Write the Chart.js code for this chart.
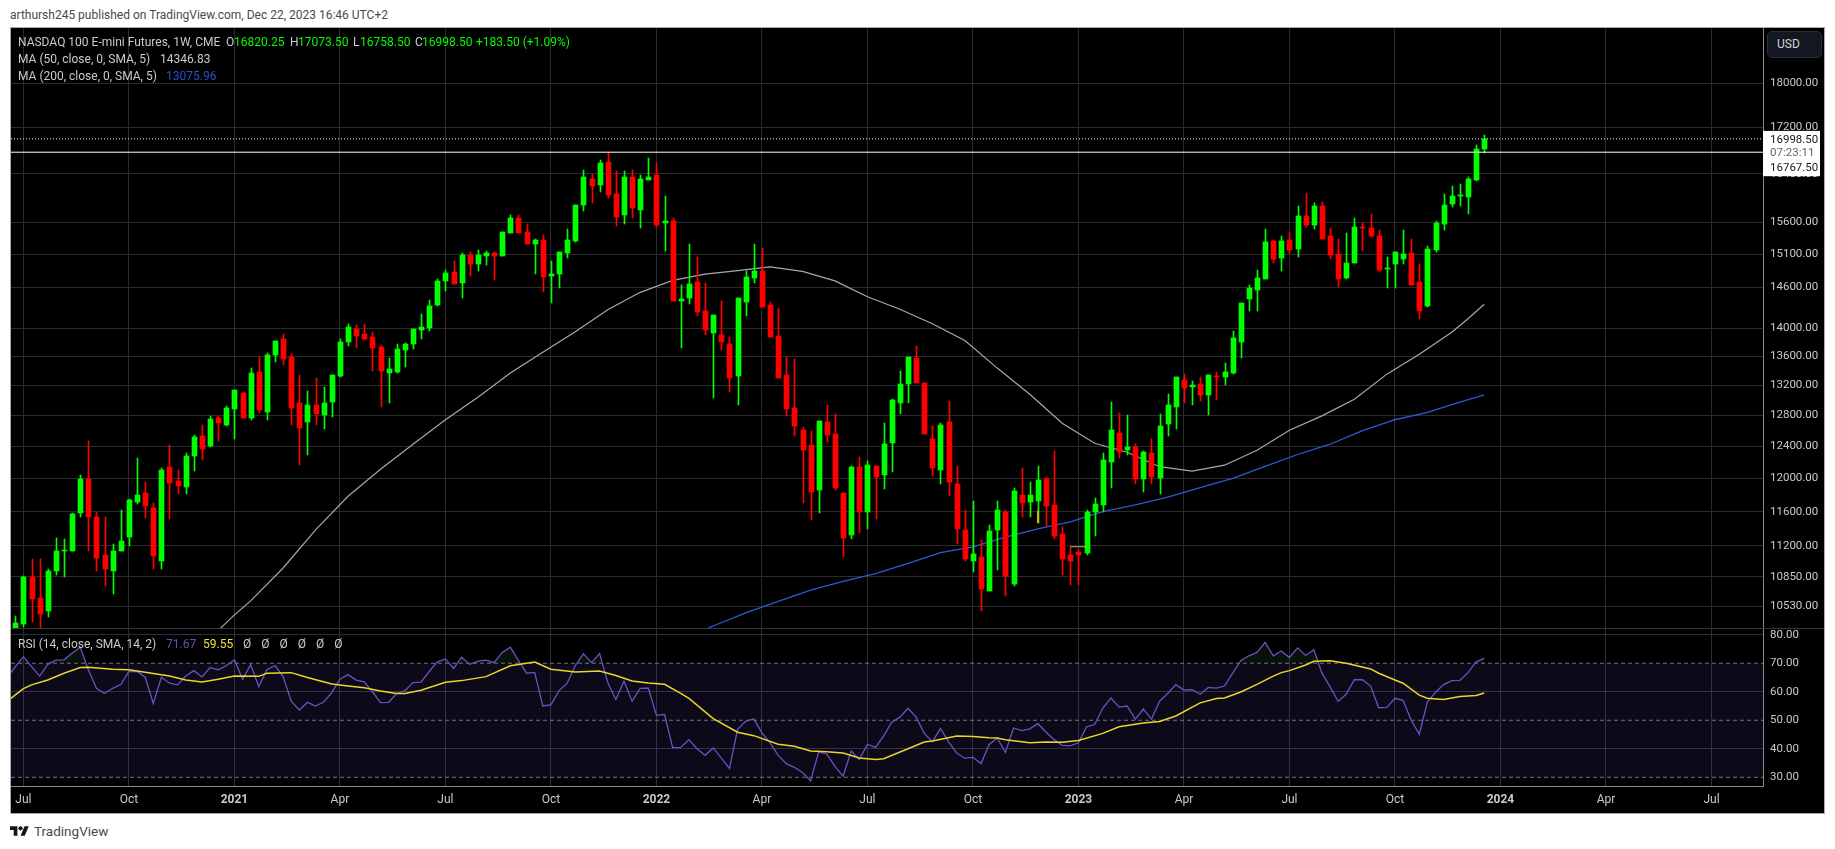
<!DOCTYPE html>
<html>
<head>
<meta charset="utf-8">
<title>NASDAQ 100 E-mini Futures</title>
<script src="https://cdn.jsdelivr.net/npm/chart.js@4"></script>
<style>
    html, body { margin: 0; background: #fff; width: 1835px; height: 849px; overflow: hidden; font-family: Roboto, sans-serif; }
    #frame { position: absolute; left: 10px; top: 27px; width: 1813px; height: 785px; background: #000; border: 1px solid #a8a8a8; }
    #paneLine { position: absolute; left: 11px; top: 628px; width: 1813px; height: 1px; background: #34353f; }
    canvas { position: absolute; }
    #headline { position: absolute; left: 10px; top: 6px; font-size: 12px; line-height: 18px; color: #4a4a4a; }
    .tx { position: absolute; font-size: 12px; line-height: 16px; color: #c8cad0; white-space: nowrap; }
    .up { color: #00ff00; }
    #usd { position: absolute; left: 1767px; top: 31px; width: 53px; height: 25px; background: #131722; border: 1px solid #2a2e39; border-radius: 5px; color: #d1d4dc; font-size: 12px; line-height: 25px; text-indent: 9px; box-sizing: content-box; }
    #logo { position: absolute; left: 10px; top: 826px; }
    #brand { position: absolute; left: 34px; top: 822px; font-size: 13.5px; line-height: 18px; color: #4a4a4a; }
</style>
</head>
<body>
<div id="frame"></div>
<div id="paneLine"></div>
<div id="headline">arthursh245 published on TradingView.com, Dec 22, 2023 16:46 UTC+2</div>
<canvas id="priceChart" width="1813" height="600" style="left:11px;top:28px"></canvas>
<canvas id="rsiChart" width="1813" height="184" style="left:11px;top:629px"></canvas>

<div class="tx" style="left:18px;top:34px">NASDAQ 100 E-mini Futures, 1W, CME</div>
<div class="tx" style="left:226px;top:34px">O</div><div class="tx up" style="left:234px;top:34px">16820.25</div>
<div class="tx" style="left:290px;top:34px">H</div><div class="tx up" style="left:298px;top:34px">17073.50</div>
<div class="tx" style="left:353px;top:34px">L</div><div class="tx up" style="left:360px;top:34px">16758.50</div>
<div class="tx" style="left:415px;top:34px">C</div><div class="tx up" style="left:422px;top:34px">16998.50</div>
<div class="tx up" style="left:476px;top:34px">+183.50 (+1.09%)</div>
<div class="tx" style="left:18px;top:51px">MA (50, close, 0, SMA, 5)</div>
<div class="tx" style="left:160px;top:51px">14346.83</div>
<div class="tx" style="left:18px;top:68px">MA (200, close, 0, SMA, 5)</div>
<div class="tx" style="left:166px;top:68px;color:#2450d0">13075.96</div>
<div class="tx" style="left:18px;top:636px">RSI (14, close, SMA, 14, 2)</div>
<div class="tx" style="left:166px;top:636px;color:#6a4fb0">71.67</div>
<div class="tx" style="left:203px;top:636px;color:#f0e030">59.55</div>
<div class="tx" style="left:243px;top:636px;word-spacing:7px">Ø Ø Ø Ø Ø Ø</div>
<div id="usd">USD</div>

<svg id="logo" width="19" height="10" viewBox="0 4 36 18"><path fill="#131722" d="M14 22H7V11H0V4h14v18zM28 22h-8l7.5-18h8L28 22z"/><circle fill="#131722" cx="20" cy="8" r="4"/></svg>
<div id="brand">TradingView</div>

<script>
// weekly candles, first candle is index 0
const opens = [10300,10339,10850,10622,10480,10921,11140,11136,11580,12000,
    11533,11091,10910,11136,11298,11710,11822,11640,11027,12142,
    11968,11895,12280,12533,12404,12765,12675,12890,13100,12765,
    13384,12845,13618,13840,13590,12970,12715,12940,12805,12980,
    13325,13810,13990,13920,13880,13730,13370,13385,13690,13770,
    13975,14005,14336,14694,14828,14665,15090,14954,15075,15120,
    15075,15428,15671,15444,15266,15330,14772,14802,15120,15315,
    15880,16305,16210,16605,16065,15720,16340,15800,16290,16375,
    15590,15620,14400,14444,14680,14255,13935,13905,13770,13330,
    14385,14742,14850,14340,13895,13343,12898,12610,12417,11860,
    12712,12560,11822,11320,12140,11600,12155,12040,12440,12972,
    13218,13577,13230,12495,12103,12712,11930,11380,11023,11068,
    10690,11385,11590,10770,11800,11710,11725,12000,11675,11335,
    11100,11125,11115,11600,11675,12200,12580,12355,12390,11990,
    12315,12004,12685,12915,13274,13178,13218,13070,13330,13315,
    13370,13800,14430,14560,14725,15315,15040,15330,15186,15703,
    15557,15866,15380,15105,14745,14960,15525,15510,15395,14880,
    14950,15025,15120,14680,14325,15170,15573,15900,16030,16013,
    16290,16820.25];
const highs = [10426,10855,11053,11053,10940,11286,11274,11580,12050,12467,
    11590,11541,11227,11616,11749,12254,11956,11700,12129,12417,
    12104,12317,12545,12680,12790,12790,12925,13140,13110,13440,
    13596,13645,13820,13910,13630,13342,13125,13300,13178,13342,
    13850,14060,14045,14060,13950,13755,13575,13770,13785,13990,
    14205,14410,14724,14867,14998,15115,15136,15165,15150,15136,
    15444,15720,15720,15573,15346,15411,14999,15135,15492,15880,
    16460,16405,16640,16765,16455,16440,16470,16375,16660,16575,
    16030,15670,14635,15266,15060,14665,14195,14400,13880,14444,
    14850,15266,15205,14385,14290,13590,13560,12650,12600,12725,
    12945,12817,11822,12150,12266,12216,12155,12700,13018,13398,
    13590,13740,13240,12660,12700,12991,12155,11615,11730,11265,
    11440,11730,11625,11880,12125,11955,12155,12017,12340,11415,
    11190,11170,11625,11760,12315,12975,12830,12805,12430,12340,
    12495,12818,13085,13315,13356,13260,13315,13343,13384,13508,
    13960,14370,14635,14860,15493,15330,15380,15444,15870,16080,
    15915,15932,15510,15347,15430,15670,15590,15736,15475,15060,
    15135,15475,15347,14950,15235,15625,16063,16195,16230,16340,
    16900,17073.5];
const lows = [10280,10303,10364,10292,10408,10876,10846,11136,11537,11147,
    10921,10747,10659,11136,11204,11686,11522,10940,10940,11510,
    11810,11810,12092,12230,12392,12470,12660,12495,12765,12740,
    12832,12740,13522,13480,12675,12170,12290,12680,12625,12780,
    13315,13740,13715,13825,13395,12920,12970,13370,13460,13700,
    13840,13960,14320,14544,14654,14444,14772,14848,14938,14710,
    15075,15428,15428,15266,14802,14530,14370,14590,15045,15300,
    15785,15915,16090,16000,15545,15573,15670,15510,16290,15525,
    15155,14400,13715,14355,14180,13905,13030,13690,13110,12940,
    14180,14665,14310,13880,13300,12800,12533,11700,11498,11580,
    12455,11860,11068,11275,11350,11390,11508,11870,12078,12817,
    12972,13230,12555,12030,11930,11785,11227,11023,10900,10480,
    10690,10925,10635,10750,11535,11535,11465,11425,11275,10875,
    10765,10755,11100,11310,11600,11880,12250,12290,11930,11835,
    11930,11810,12533,12630,12965,12938,12990,12805,13000,13205,
    13356,13580,14250,14250,14725,14965,14845,15105,15060,15525,
    15493,15347,15030,14605,14725,14960,15150,15365,14830,14590,
    14590,14950,14635,14135,14310,15135,15475,15850,15870,15735,
    16275,16758.5];
const closes = [10346,10850,10611,10447,10921,11136,11148,11569,12000,11533,
    11057,10933,11136,11251,11737,11798,11665,11080,12104,11943,
    11907,12280,12520,12367,12752,12700,12900,13140,12765,13370,
    12870,13618,13820,13563,12900,12640,12940,12815,12970,13342,
    13810,14020,13895,13850,13715,13395,13425,13700,13770,13990,
    14020,14320,14694,14808,14654,15090,14954,15090,15120,15075,
    15444,15671,15428,15266,15330,14757,14802,15135,15330,15880,
    16355,16190,16590,16050,15685,16340,15835,16305,16340,15557,
    15620,14400,14430,14650,14240,13975,14195,13797,13300,14444,
    14757,14850,14310,13880,13310,12885,12662,12355,11835,12725,
    12546,11883,11295,12140,11600,12166,12017,12430,13000,13218,
    13590,13240,12560,12128,12677,11955,11390,11050,11102,10712,
    11375,11625,10865,11845,11700,11800,11980,11665,11310,11056,
    11030,11100,11600,11690,12225,12615,12335,12390,11990,12330,
    12020,12662,12938,13315,13165,13205,13070,13343,13315,13384,
    13854,14370,14590,14741,15300,15025,15315,15170,15703,15557,
    15866,15347,15090,14725,14960,15525,15510,15380,14860,14893,
    15135,15105,14635,14250,15186,15590,15883,16030,16046,16307,
    16815,16998.5];

const ma50Weeks = [25,27,29,33,37,41,45,49,53,57,61,65,69,73,77,81,85,89,93,97,101,105,109,113,117,121,125,129,133,137,141,145,149,153,157,161,165,169,173,177,179,181];
const ma50Values = [10270,10436,10586,10949,11386,11785,12116,12430,12746,13044,13370,13659,13949,14268,14524,14703,14797,14851,14907,14839,14695,14458,14275,14063,13825,13439,13084,12700,12443,12329,12147,12091,12166,12354,12610,12797,13017,13356,13632,13942,14136,14346.83];
const ma200Weeks = [85,86,90,94,98,102,106,110,114,118,122,126,130,134,138,142,146,150,154,158,162,166,170,174,178,181];
const ma200Values = [10280,10317,10457,10582,10704,10800,10887,11002,11124,11189,11300,11397,11480,11600,11682,11773,11890,12004,12150,12300,12430,12605,12746,12842,12977,13075.96];

// small yellow drawings left on the candles around the end of 2022
const markLevelWeeks = [130,132];
const markLevelValues = [11190,11190];
const markWickWeeks = [126,126];
const markWickValues = [11610,11465];

// rsi starts one week before the first visible candle
const rsiValues = [65,68.8,72.3,68.8,65.5,69.6,71.1,71.2,73.5,75.6,67.7,
    61.2,59.4,61.2,62.5,67.1,67.1,65.1,55.9,65.1,63.0,
    62.4,65.5,67.4,65.2,68.5,67.7,69.1,71.2,64.4,69.5,
    61.8,67.7,69.2,65.3,56.7,53.6,56.3,55.0,56.4,59.7,
    64.4,66.0,64.1,63.5,60.0,56.2,56.3,59.4,60.4,63.2,
    63.4,67.1,70.5,71.5,68.2,72.1,69.6,70.7,71.1,70.2,
    73.8,75.6,70.9,66.5,66.8,55.0,55.4,60.4,63.0,69.2,
    73.3,70.2,73.4,63.2,57.3,63.7,56.7,61.2,61.3,51.7,
    52.0,40.4,40.5,43.2,40.0,37.7,40.3,36.7,33.1,46.8,
    49.6,50.5,45.6,42.1,37.7,34.8,33.5,31.7,28.7,39.0,
    38.1,33.8,30.4,39.2,36.2,41.6,40.5,44.5,49.3,51.1,
    54.2,51.1,45.4,42.5,47.1,42.4,38.5,36.7,37.0,34.8,
    41.5,43.8,38.7,47.3,46.4,47.0,48.8,45.9,43.2,41.2,
    41.0,42.1,47.7,48.5,54.3,57.8,54.6,55.0,50.4,53.9,
    50.4,56.7,59.4,62.5,60.6,60.7,59.1,61.5,61.3,62.0,
    66.5,70.9,72.6,73.8,77.3,72.6,74.3,72.0,75.4,72.7,
    74.7,66.5,61.8,56.6,59.2,64.2,64.2,62.0,54.4,54.5,
    57.7,57.0,50.0,45.1,56.5,59.8,62.5,63.9,64.0,66.7,
    70.5,71.67];
const rsiMaWeeks = [-1,1,2,4,6,8,9,12,14,17,19,21,23,25,27,30,31,34,36,39,41,43,45,47,48,50,53,55,58,61,64,66,69,72,74,76,78,80,82,83,86,89,91,94,96,98,100,102,104,106,107,110,112,113,116,118,120,121,122,125,127,129,131,134,136,139,141,143,146,148,149,151,153,155,156,157,159,160,162,164,167,168,170,171,173,174,176,178,180,181];
const rsiMaValues = [56.7,61.1,62.4,64.1,66.5,68.5,68.6,67.9,67.7,66.4,65.5,64.1,63.4,64.4,65.5,65.4,66.5,66.7,65.0,62.7,62.0,61.4,60.3,59.4,59.4,60.5,63.3,63.9,65.3,69.1,70.4,67.9,66.9,67.3,65.7,63.8,63.1,62.6,59.4,57.7,50.6,45.8,44.6,41.6,40.9,39.2,39.0,38.5,36.8,36.2,36.5,40.0,42.4,42.7,44.5,44.3,43.9,43.8,43.2,42.1,42.4,42.3,42.9,45.4,47.7,49.0,49.6,51.5,56.1,57.6,57.8,59.9,62.6,65.5,66.7,67.4,69.4,70.7,70.9,70.0,68.0,66.5,64.1,63.0,58.8,57.7,57.3,58.3,58.7,59.55];

const priceTicks = [18000,17200,16400,15600,15100,14600,14000,13600,13200,12800,12400,12000,11600,11200,10850,10530];
const rsiTicks = [80,70,60,50,40,30];
const timeWeeks = [1,14,27,40,53,66,79,92,105,118,131,144,157,170,183,196,209];
const timeLabels = ['Jul','Oct','2021','Apr','Jul','Oct','2022','Apr','Jul','Oct','2023','Apr','Jul','Oct','2024','Apr','Jul'];

const lastClose = 16998.50;
const lineLevel = 16767.50;
const countdown = '07:23:11';

const xMin = -0.53, xMax = 215.35;
const UP = '#00ff00', DOWN = '#ff0000';
const GRID = '#2b2b2b';
const FONT = 'Roboto';

Chart.defaults.animation = false;
Chart.defaults.font.family = FONT;
Chart.defaults.font.size = 11.5;
Chart.defaults.color = '#c8cad0';

const rowColor = closes.map((c, i) => c >= opens[i] ? UP : DOWN);
const flat = v => [{x: xMin, y: v}, {x: xMax, y: v}];
const xy = (weeks, vals) => vals.map((v, i) => ({x: weeks[i], y: v}));

// labels must not push the chart area in, panes run edge to edge
const noPadding = s => { s.paddingTop = s.paddingBottom = s.paddingLeft = s.paddingRight = 0; };

// snap bars to whole pixels so the thin wicks stay sharp
const snapBars = {
    id: 'snapBars',
    beforeDatasetDraw(chart, args) {
        if (args.meta.type !== 'bar') return;
        args.meta.data.forEach(el => {
            el.x = Math.round(el.x) + 0.5;
            el.y = Math.round(el.y);
            el.base = Math.round(el.base);
            if (el.base - el.y < 1) el.base = el.y + 1;
        });
    }
};

// white tag on the price axis with last price, countdown and the line level
const priceTag = {
    id: 'priceTag',
    afterDraw(chart) {
        const c = chart.ctx, y = chart.scales.y, left = chart.chartArea.right;
        const top = y.getPixelForValue(lastClose), low = y.getPixelForValue(lineLevel);
        c.save();
        c.fillStyle = '#fff';
        c.fillRect(left, top - 8, 57, low - top + 32);
        c.font = '11.5px ' + FONT;
        c.textBaseline = 'middle';
        c.fillStyle = '#131722';
        c.fillText(lastClose.toFixed(2), left + 7, top + 1);
        c.fillText(lineLevel.toFixed(2), left + 7, low + 16);
        c.fillStyle = '#666';
        c.fillText(countdown, left + 7, top + 14);
        c.restore();
    }
};

new Chart(document.getElementById('priceChart'), {
    type: 'bar',
    data: {
        datasets: [
            { type: 'line', data: flat(lineLevel), borderColor: '#fff', borderWidth: 1, pointRadius: 0, order: 0 },
            { type: 'line', data: flat(lastClose), borderColor: '#fff', borderWidth: 1, borderDash: [1, 2], pointRadius: 0, order: 0 },
            { type: 'line', data: xy(markLevelWeeks, markLevelValues), borderColor: '#c9b04a', borderWidth: 1, pointRadius: 0, order: 0 },
            { type: 'line', data: xy(markWickWeeks, markWickValues), borderColor: '#f0b020', borderWidth: 1, pointRadius: 0, order: 0 },
            { data: opens.map((o, i) => ({x: i, y: [o, closes[i]]})), backgroundColor: rowColor, barThickness: 5, grouped: false, order: 1 },
            { data: lows.map((l, i) => ({x: i, y: [l, highs[i]]})), backgroundColor: rowColor, barThickness: 1, grouped: false, order: 2 },
            { type: 'line', data: xy(ma50Weeks, ma50Values), borderColor: '#a8a8a8', borderWidth: 1.2, pointRadius: 0, order: 3 },
            { type: 'line', data: xy(ma200Weeks, ma200Values), borderColor: '#2a5bd7', borderWidth: 1.3, pointRadius: 0, order: 3 }
        ]
    },
    options: {
        responsive: false,
        layout: { padding: 0 },
        plugins: { legend: { display: false }, tooltip: { enabled: false } },
        scales: {
            x: {
                type: 'linear', min: xMin, max: xMax, offset: false,
                grid: { color: GRID, offset: false, drawTicks: false },
                border: { display: false },
                ticks: { display: false, autoSkip: false },
                afterBuildTicks: s => { s.ticks = timeWeeks.map(value => ({value})); },
                afterFit: s => { s.height = 0; noPadding(s); }
            },
            y: {
                type: 'logarithmic', position: 'right', min: 10296, max: 19044,
                grid: { color: GRID, drawTicks: false },
                border: { display: true, color: '#8a8a8a' },
                ticks: { autoSkip: false, padding: 7, callback: v => Number(v).toFixed(2) },
                afterBuildTicks: s => { s.ticks = priceTicks.map(value => ({value})); },
                afterFit: s => { s.width = 61; noPadding(s); }
            }
        }
    },
    plugins: [snapBars, priceTag]
});

new Chart(document.getElementById('rsiChart'), {
    type: 'line',
    data: {
        datasets: [
            { data: xy(rsiMaWeeks, rsiMaValues), borderColor: '#e8d62a', borderWidth: 1.5, pointRadius: 0, order: 0 },
            { data: rsiValues.map((v, i) => ({x: i - 1, y: v})), borderColor: '#7050c0', borderWidth: 1.3, pointRadius: 0, order: 1,
              fill: { target: { value: 70 }, above: 'rgba(40,120,60,0.16)', below: 'rgba(0,0,0,0)' } },
            { data: flat(70), borderColor: '#77777f', borderWidth: 1, borderDash: [4, 3], pointRadius: 0, order: 2,
              fill: { target: { value: 30 } }, backgroundColor: 'rgba(110,80,220,0.11)' },
            { data: flat(50), borderColor: '#77777f', borderWidth: 1, borderDash: [4, 3], pointRadius: 0, order: 2 },
            { data: flat(30), borderColor: '#77777f', borderWidth: 1, borderDash: [4, 3], pointRadius: 0, order: 2 }
        ]
    },
    options: {
        responsive: false,
        layout: { padding: 0 },
        plugins: { legend: { display: false }, tooltip: { enabled: false } },
        scales: {
            x: {
                type: 'linear', min: xMin, max: xMax, offset: false,
                grid: { color: '#2f2d38', drawTicks: false },
                border: { display: true, color: '#8a8a8a' },
                ticks: {
                    autoSkip: false, maxRotation: 0, padding: 7,
                    font: ctx => ({ family: FONT, size: 12, weight: /^\d/.test(timeLabels[ctx.index]) ? 'bold' : 'normal' }),
                    callback: (v, i) => timeLabels[i]
                },
                afterBuildTicks: s => { s.ticks = timeWeeks.map(value => ({value})); },
                afterFit: s => { s.height = 27; noPadding(s); }
            },
            y: {
                type: 'linear', position: 'right', min: 26.95, max: 82,
                grid: { color: ctx => [70, 50, 30].includes(ctx.tick.value) ? 'rgba(0,0,0,0)' : '#2f2d38', drawTicks: false },
                border: { display: true, color: '#8a8a8a' },
                ticks: { autoSkip: false, padding: 7, callback: v => Number(v).toFixed(2) },
                afterBuildTicks: s => { s.ticks = rsiTicks.map(value => ({value})); },
                afterFit: s => { s.width = 61; noPadding(s); }
            }
        }
    }
});
</script>
</body>
</html>
